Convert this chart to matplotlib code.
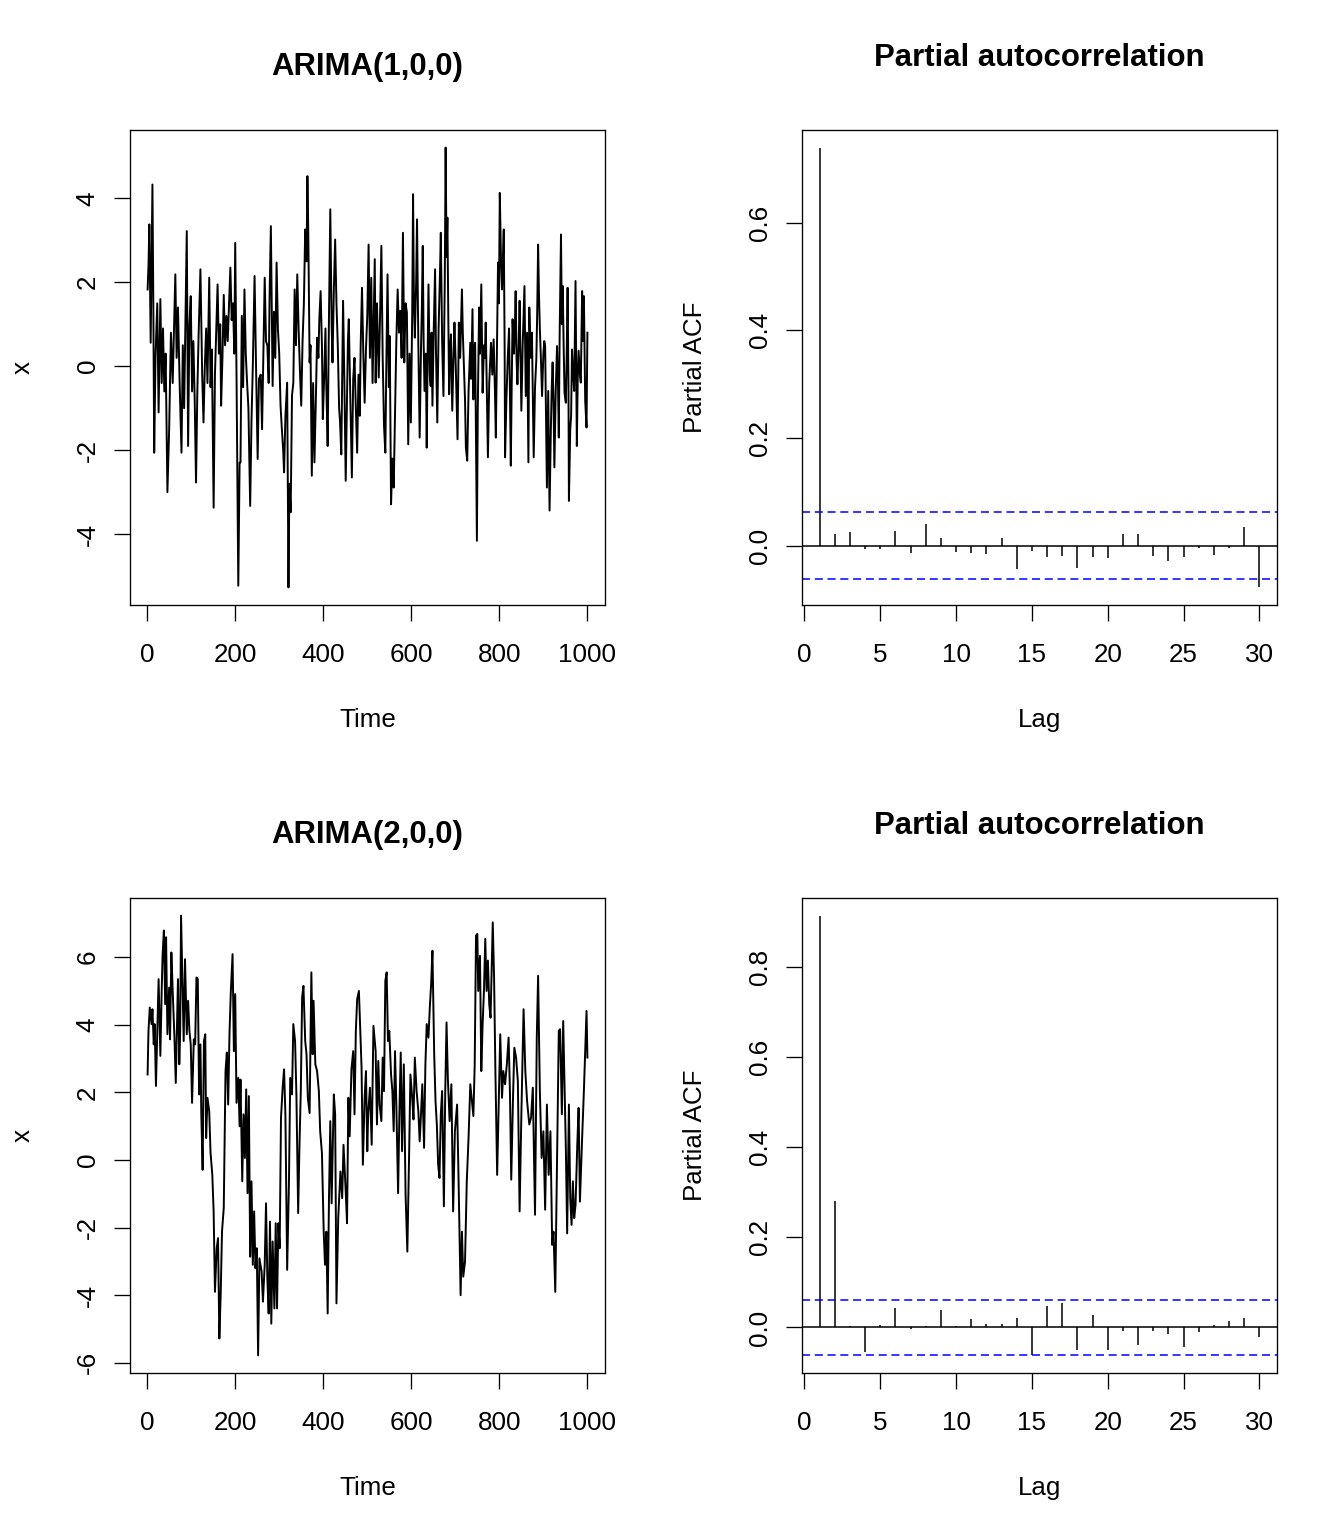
import numpy as np
import matplotlib
matplotlib.use("Agg")
import matplotlib.pyplot as plt
from matplotlib.ticker import FormatStrFormatter

plt.rcParams['font.family'] = ['Liberation Sans', 'DejaVu Sans']
plt.rcParams['axes.unicode_minus'] = False
plt.rcParams['lines.scale_dashes'] = False

# ---- data ----
ar1_time = [1, 3, 5, 8, 12, 14, 16, 19, 23, 26, 30, 33, 36, 39, 42, 46, 50, 54, 58, 61,
            64, 67, 70, 74, 78, 81, 84, 87, 90, 93, 96, 99, 102, 105, 108, 111, 114, 117, 121, 125,
            128, 131, 134, 137, 141, 144, 147, 151, 154, 157, 160, 163, 166, 168, 171, 174, 177, 180, 183, 186,
            189, 192, 195, 198, 200, 203, 207, 210, 212, 215, 218, 221, 224, 227, 230, 234, 237, 240, 244, 247,
            251, 254, 258, 261, 264, 267, 270, 273, 276, 278, 281, 285, 288, 291, 294, 297, 300, 303, 306, 309,
            311, 314, 318, 321, 323, 326, 329, 332, 335, 338, 341, 344, 347, 350, 353, 356, 359, 362, 364, 366,
            369, 371, 374, 377, 380, 383, 386, 389, 391, 394, 397, 399, 402, 405, 407, 410, 413, 416, 419, 421,
            424, 427, 430, 433, 436, 438, 441, 443, 445, 448, 451, 454, 456, 458, 461, 463, 465, 468, 471, 474,
            477, 480, 483, 485, 488, 491, 494, 497, 500, 503, 506, 509, 512, 514, 517, 519, 522, 524, 526, 529,
            532, 535, 538, 541, 543, 546, 549, 551, 554, 557, 560, 563, 566, 569, 572, 575, 578, 581, 584, 587,
            590, 593, 596, 599, 602, 604, 606, 608, 611, 613, 616, 619, 622, 624, 626, 628, 630, 633, 635, 637,
            639, 642, 644, 646, 648, 651, 654, 656, 659, 662, 665, 667, 670, 673, 676, 678, 680, 682, 684, 686,
            688, 690, 693, 696, 698, 701, 705, 708, 711, 715, 717, 719, 722, 724, 727, 730, 734, 736, 739, 741,
            743, 745, 749, 751, 754, 756, 759, 762, 765, 767, 769, 772, 774, 777, 781, 784, 787, 790, 792, 795,
            797, 799, 801, 804, 806, 808, 810, 812, 813, 816, 819, 822, 824, 826, 828, 830, 833, 835, 837, 839,
            841, 844, 846, 848, 850, 853, 855, 857, 860, 863, 866, 868, 871, 874, 876, 878, 881, 884, 886, 888,
            890, 892, 894, 897, 900, 902, 904, 906, 908, 911, 914, 917, 919, 921, 923, 925, 928, 931, 933, 935,
            937, 940, 942, 944, 946, 948, 951, 953, 955, 957, 958, 961, 963, 965, 967, 970, 973, 976, 978, 980,
            983, 985, 988, 990, 992, 995, 998, 1000]
ar1_x = [1.83, 2.39, 3.38, 0.56, 4.33, 1.5, -2.06, 0.25, 1.5, -1.1, 1.6, -0.4, 0.9, -0.6, 0.3, -3.0, -1.5, 0.8, -0.4, 0.9,
         2.19, 0.2, 1.4, -0.5, -2.06, 0.5, -1.0, 1.2, 3.22, -1.9, 1.0, 1.67, -0.6, 0.6, -0.8, -2.77, -0.6, 0.8, 2.31, -0.2,
         -1.34, 0.0, 0.9, -0.4, 2.11, -0.5, 0.4, -3.37, -0.2, 0.9, 1.95, 0.3, 1.0, -0.94, 0.2, 1.7, 0.5, 1.2, 0.6, 1.5,
         2.35, 1.1, 1.5, 0.3, 2.94, -0.23, -5.23, -2.3, -2.29, 1.2, -0.5, 1.83, 0.3, -0.4, -1.0, -3.33, -1.3, 0.0, 2.15, 0.2,
         -2.21, -0.3, -0.2, -1.5, 0.3, 2.11, 0.6, 0.5, -0.4, 1.6, 3.34, -0.47, 1.3, 0.2, 2.47, 0.9, 0.3, -0.94, -1.5, -2.0,
         -2.53, -1.2, -0.39, -5.27, -2.8, -3.48, -0.7, -0.4, 1.83, 0.5, 2.19, 0.9, -0.1, -0.94, 0.6, 1.5, 3.26, 2.5, 4.53, 3.2,
         0.09, 0.5, -2.61, -0.4, -2.29, -0.9, 0.68, 0.2, 1.1, 1.79, 0.5, -1.26, -0.3, 0.9, -0.5, -1.9, 1.2, 3.74, 1.0, 0.09,
         1.8, 3.02, 1.5, 0.5, -1.0, -1.3, -2.1, -0.3, 1.56, -0.4, -2.73, -0.8, 0.6, 1.12, -0.5, -1.6, -2.65, -0.3, 0.2, -1.0,
         -2.06, -0.2, -1.18, 0.5, 1.87, 0.3, -0.87, 0.4, 1.2, 2.9, 0.2, 2.11, -0.4, 0.8, 2.55, -0.39, 1.5, 0.6, -0.27, 1.2,
         2.87, 0.2, -1.42, -2.06, -0.2, 2.19, -0.5, 0.72, -3.29, -2.2, -2.89, -1.18, 0.6, 1.83, 0.8, 1.32, 0.2, 3.18, 0.09, 1.5,
         1.28, -1.86, 0.3, -1.34, 1.2, 4.1, 1.5, 0.68, 2.0, 3.5, 0.5, -1.7, 0.4, 1.4, 2.87, 0.6, -0.59, 0.3, -1.94, 0.2,
         1.95, -0.2, -0.47, 0.8, -0.94, 0.9, 2.31, 0.4, -1.34, 0.9, 2.15, 3.18, 0.6, -0.71, 2.0, 5.21, 2.6, 3.54, 1.2, -0.67,
         0.3, 0.76, -1.06, 0.3, 1.04, 0.0, -1.74, 1.04, 0.2, 1.83, 0.8, 0.17, -0.8, -1.94, -2.25, -0.6, 0.56, -0.3, 1.36, -0.79,
         0.4, 0.56, -4.16, -1.0, 1.4, 0.3, 1.95, -0.63, 0.5, 0.2, 1.04, -0.8, -2.17, -0.4, 0.56, -0.2, 0.64, -0.6, -1.7, 0.9,
         2.47, 1.5, 4.13, 2.4, 1.83, 2.5, 3.26, 0.4, -2.17, -0.8, 0.17, 0.9, -0.6, -2.37, -0.5, 1.12, 0.3, 0.8, 1.79, 0.2,
         -0.43, 0.6, 1.56, 0.2, -1.06, 0.5, 1.2, 1.91, -0.71, 0.8, -2.29, 1.4, 0.2, 0.8, -0.6, -2.17, -0.5, 0.17, 1.3, 2.9,
         1.7, 0.88, 0.3, -0.71, 0.3, 0.6, 0.48, -1.2, -2.89, -0.59, -3.44, -1.5, -0.5, 0.09, -0.8, -2.41, -0.6, 0.48, -0.3, -1.7,
         0.8, 3.14, 1.0, 1.91, 0.5, -0.63, -0.87, 0.3, 1.87, -0.5, -3.21, -1.5, -1.18, 0.4, -0.07, -0.59, 2.03, -1.9, -0.3, 0.37,
         -0.2, -0.39, 1.79, 0.6, 1.67, -0.83, -1.46, 0.8]

ar2_time = [1, 3, 6, 10, 12, 15, 17, 20, 23, 26, 30, 33, 35, 38, 41, 43, 46, 50, 52, 55,
            58, 62, 65, 70, 73, 75, 77, 80, 83, 86, 90, 93, 96, 99, 102, 106, 109, 112, 115, 118,
            121, 123, 126, 129, 132, 134, 137, 141, 144, 148, 151, 154, 158, 161, 164, 167, 170, 174, 178, 181,
            184, 187, 190, 194, 197, 200, 203, 207, 210, 212, 216, 219, 222, 225, 228, 231, 234, 237, 240, 243,
            246, 249, 252, 255, 260, 263, 267, 270, 273, 276, 279, 282, 285, 289, 292, 295, 298, 301, 304, 308,
            311, 314, 318, 322, 325, 329, 332, 336, 339, 343, 346, 349, 352, 355, 359, 362, 365, 369, 373, 376,
            378, 382, 386, 390, 393, 397, 401, 404, 407, 410, 413, 416, 419, 424, 427, 430, 434, 439, 443, 446,
            451, 454, 457, 460, 464, 468, 471, 474, 477, 481, 484, 487, 490, 494, 497, 500, 502, 506, 510, 514,
            519, 522, 525, 528, 532, 535, 538, 541, 544, 547, 550, 554, 557, 560, 563, 566, 570, 573, 576, 579,
            583, 587, 591, 595, 598, 602, 605, 608, 612, 616, 619, 622, 625, 629, 632, 635, 639, 642, 645, 648,
            652, 655, 658, 661, 664, 667, 670, 674, 677, 680, 683, 687, 691, 695, 699, 704, 707, 712, 715, 718,
            722, 726, 730, 734, 737, 741, 744, 747, 750, 752, 756, 759, 762, 765, 768, 771, 774, 777, 780, 783,
            785, 788, 791, 795, 798, 802, 806, 809, 813, 817, 821, 824, 827, 831, 834, 838, 842, 846, 850, 855,
            859, 863, 868, 872, 876, 881, 885, 888, 892, 896, 900, 904, 908, 912, 916, 920, 923, 927, 931, 935,
            938, 942, 945, 948, 951, 954, 958, 961, 964, 967, 970, 973, 977, 980, 983, 988, 992, 995, 998, 1000]
ar2_x = [2.53, 3.82, 4.51, 4.02, 4.46, 3.42, 4.02, 2.19, 3.82, 5.35, 3.08, 5.0, 6.04, 6.79, 4.61, 6.59, 3.72, 5.1, 3.57, 6.14,
         5.0, 3.62, 2.28, 5.35, 2.83, 3.77, 7.23, 5.3, 3.52, 5.94, 3.72, 4.71, 3.82, 3.42, 1.69, 3.57, 3.42, 5.4, 5.35, 1.94,
         3.42, 1.35, -0.29, 3.52, 3.72, 0.65, 1.84, 1.44, 0.21, -0.44, -1.52, -3.9, -2.61, -2.31, -5.28, -4.0, -2.12, -1.42, 2.63, 3.18,
         1.64, 3.72, 4.96, 6.09, 3.22, 4.91, 1.69, 2.43, 1.0, 2.38, -0.63, 1.35, 0.06, 2.09, -0.98, 1.89, -2.86, -0.63, -3.1, -1.52,
         -3.2, -2.61, -5.78, -2.91, -3.3, -4.19, -3.1, -1.28, -3.5, -4.54, -1.82, -4.84, -2.41, -4.39, -1.87, -4.39, -1.87, -2.61, 1.25, 2.19,
         2.68, 1.35, -3.25, -0.73, 2.43, 1.94, 4.02, 3.52, 1.94, -1.57, 0.45, 2.04, 4.81, 5.15, 3.52, 3.13, 1.84, 1.39, 5.55, 3.13,
         4.71, 2.83, 2.63, 2.04, 0.85, 0.21, -2.12, -3.1, -2.12, -4.54, -1.13, 1.15, -1.28, 1.94, 1.35, -4.24, -1.72, -0.34, -1.13, 0.45,
         -0.93, -1.87, 1.84, 0.7, 2.68, 3.22, 1.35, 3.82, 4.76, 5.0, 3.82, 2.73, -0.14, 1.84, 2.63, 0.26, 1.35, 2.14, 0.45, 3.97,
         3.22, 1.05, 2.93, 1.64, 1.15, 3.03, 2.04, 5.3, 5.55, 3.52, 3.82, 2.53, 2.04, 0.85, 3.22, 1.64, -0.98, 1.44, 3.18, 0.26,
         2.83, -1.03, -2.71, 0.16, 2.53, 1.84, 1.2, 3.03, 2.04, 1.44, 0.55, 1.35, 2.24, 0.36, 2.83, 4.02, 3.62, 4.51, 5.2, 6.19,
         3.13, 1.74, 1.05, -0.14, -0.53, 1.35, 2.04, -1.37, 1.94, 4.07, 2.43, 1.15, 2.24, -1.52, 0.85, 1.64, -0.34, -4.0, -2.12, -3.45,
         -3.01, -0.63, 0.65, 2.24, 1.84, 1.3, 2.83, 6.64, 6.69, 5.0, 6.04, 2.63, 4.02, 5.0, 6.54, 5.0, 5.9, 4.61, 4.21, 5.9,
         7.03, 5.4, 2.63, -0.44, 1.35, 3.72, 1.84, 2.63, 2.24, 2.83, 3.62, 2.04, -0.58, 1.84, 3.32, 3.03, 2.33, -1.52, 1.35, 4.46,
         2.63, 1.74, 1.05, 1.25, 2.14, -1.62, 3.62, 5.45, 2.04, 0.06, 0.85, -1.47, 1.64, -0.44, 0.85, -2.51, -2.12, -3.9, 0.06, 3.82,
         3.87, 1.35, 4.11, 2.24, 0.36, -2.17, 1.64, -1.13, -1.92, -0.63, -1.72, -1.33, 0.45, 1.54, -1.23, 0.65, 2.04, 3.22, 4.41, 3.03]

pacf_ar1 = [0.739, 0.023, 0.026, -0.006, -0.006, 0.027, -0.014, 0.040, 0.014, -0.012,
            -0.014, -0.015, 0.014, -0.042, -0.010, -0.020, -0.019, -0.041, -0.020, -0.023,
            0.023, 0.022, -0.018, -0.028, -0.020, -0.004, -0.016, -0.004, 0.035, -0.077]
pacf_ar2 = [0.914, 0.281, 0.003, -0.055, 0.005, 0.044, -0.004, 0.004, 0.038, 0.003,
            0.019, 0.007, 0.007, 0.021, -0.062, 0.048, 0.055, -0.051, 0.027, -0.051,
            -0.007, -0.038, -0.007, -0.014, -0.044, -0.011, 0.006, 0.014, 0.022, -0.022]
conf_bound = 0.062

titles = ['ARIMA(1,0,0)', 'ARIMA(2,0,0)']

base_size = 18.7
title_size = 22.4


def padded(lo, hi, frac=0.04):
    d = (hi - lo) * frac
    return lo - d, hi + d


def r_style(ax):
    for s in ax.spines.values():
        s.set_linewidth(0.95)
    ax.tick_params(axis='both', direction='out', length=11.5, width=0.95,
                   labelsize=base_size, top=False, right=False)
    ax.tick_params(axis='x', pad=16)
    ax.tick_params(axis='y', pad=10.2, labelrotation=90)
    plt.setp(ax.get_yticklabels(), va='center')


def plot_series(ax, t, x, title, yticks):
    ax.plot(t, x, color='black', lw=1.4)
    ax.set_xlim(*padded(1, 1000))
    ax.set_ylim(*padded(min(x), max(x)))
    ax.set_xticks([0, 200, 400, 600, 800, 1000])
    ax.set_yticks(yticks)
    ax.text(0.5, 1.1158, title, transform=ax.transAxes, ha='center',
            va='baseline', fontsize=title_size, fontweight='bold')
    ax.set_xlabel('Time', fontsize=base_size)
    ax.set_ylabel('x', fontsize=base_size)
    ax.xaxis.set_label_coords(0.5, -0.2158)
    ax.yaxis.set_label_coords(-0.2, 0.5)
    r_style(ax)


def plot_pacf(ax, vals, yticks):
    lags = np.arange(1, len(vals) + 1)
    ax.vlines(lags, 0, vals, color='black', lw=1.1)
    ax.axhline(0, color='black', lw=1.1)
    for c in (conf_bound, -conf_bound):
        ax.axhline(c, color='#0000ff', lw=1.1, linestyle=(0, (5.8, 3.4)))
    ax.set_xlim(*padded(1, len(vals)))
    ax.set_ylim(*padded(min(min(vals), -conf_bound), max(max(vals), conf_bound)))
    ax.set_xticks([0, 5, 10, 15, 20, 25, 30])
    ax.set_yticks(yticks)
    ax.yaxis.set_major_formatter(FormatStrFormatter('%.1f'))
    ax.text(0.5, 1.1347, 'Partial autocorrelation', transform=ax.transAxes,
            ha='center', va='baseline', fontsize=title_size, fontweight='bold')
    ax.set_xlabel('Lag', fontsize=base_size)
    ax.set_ylabel('Partial ACF', fontsize=base_size)
    ax.xaxis.set_label_coords(0.5, -0.2158)
    ax.yaxis.set_label_coords(-0.2, 0.5)
    r_style(ax)


fig = plt.figure(figsize=(13.44, 15.36), dpi=100)
w, h = 475 / 1344, 475 / 1536
lefts = [130 / 1344, 802 / 1344]
bottoms = [1 - 605 / 1536, 1 - 1373 / 1536]

ax1 = fig.add_axes([lefts[0], bottoms[0], w, h])
ax2 = fig.add_axes([lefts[1], bottoms[0], w, h])
ax3 = fig.add_axes([lefts[0], bottoms[1], w, h])
ax4 = fig.add_axes([lefts[1], bottoms[1], w, h])

plot_series(ax1, ar1_time, ar1_x, titles[0], [-4, -2, 0, 2, 4])
plot_pacf(ax2, pacf_ar1, [0.0, 0.2, 0.4, 0.6])
plot_series(ax3, ar2_time, ar2_x, titles[1], [-6, -4, -2, 0, 2, 4, 6])
plot_pacf(ax4, pacf_ar2, [0.0, 0.2, 0.4, 0.6, 0.8])

fig.savefig('out.png', dpi=100, facecolor='white')
